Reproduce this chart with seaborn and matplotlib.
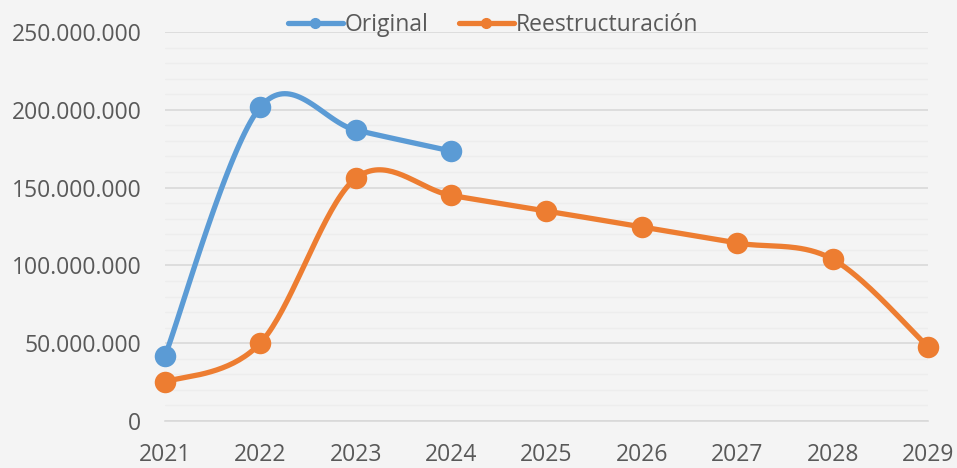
import matplotlib
matplotlib.use("Agg")
import matplotlib.pyplot as plt
import numpy as np
import pandas as pd
import seaborn as sns
from matplotlib.lines import Line2D
from matplotlib.ticker import FuncFormatter, MultipleLocator

# Values
years_original = [2021, 2022, 2023, 2024]
original = [41_800_000, 201_800_000, 187_000_000, 173_500_000]

years_restructure = [2021, 2022, 2023, 2024, 2025, 2026, 2027, 2028, 2029]
restructure = [25_000_000, 50_100_000, 156_000_000, 145_000_000, 135_000_000,
               124_700_000, 114_400_000, 104_000_000, 47_600_000]

series_names = ["Original", "Reestructuración"]
colors = ["#5B9BD5", "#ED7D31"]
bg = "#F4F4F4"


def excel_smooth(x, y, steps=40):
    # Excel-style smoothed line: cubic Bezier with control points (P2 - P0) / 6
    pts = np.column_stack([x, y]).astype(float)
    n = len(pts)
    out = [pts[0]]
    for i in range(n - 1):
        p0 = pts[i - 1] if i > 0 else pts[i]
        p1 = pts[i]
        p2 = pts[i + 1]
        p3 = pts[i + 2] if i + 2 < n else pts[i + 1]
        c1 = p1 + (p2 - p0) / 6
        c2 = p2 - (p3 - p1) / 6
        t = np.linspace(0, 1, steps)[1:, None]
        seg = ((1 - t) ** 3) * p1 + 3 * ((1 - t) ** 2) * t * c1 + 3 * (1 - t) * t ** 2 * c2 + t ** 3 * p2
        out.extend(seg)
    out = np.array(out)
    return pd.DataFrame({"x": out[:, 0], "y": out[:, 1]})


sns.set_theme(style="white")
plt.rcParams["font.family"] = ["Open Sans", "DejaVu Sans"]

fig = plt.figure(figsize=(9.57, 4.68), dpi=100, facecolor=bg)
ax = fig.add_axes([0.1724, 0.1004, 0.7973, 0.8312], facecolor=bg)

for (xs, ys), c in zip([(years_original, original), (years_restructure, restructure)], colors):
    curve = excel_smooth(xs, ys)
    sns.lineplot(data=curve, x="x", y="y", sort=False, color=c, linewidth=3.8,
                 ax=ax, clip_on=False, zorder=3, solid_capstyle="round")
    sns.scatterplot(x=xs, y=ys, color=c, s=240, linewidth=0, ax=ax,
                    clip_on=False, zorder=4)

ax.set_xlim(2021, 2029)
ax.set_ylim(0, 250_000_000)
ax.set_xticks(years_restructure)
ax.yaxis.set_major_locator(MultipleLocator(50_000_000))
ax.yaxis.set_minor_locator(MultipleLocator(10_000_000))
ax.yaxis.set_major_formatter(FuncFormatter(lambda v, p: f"{int(v):,}".replace(",", ".")))

ax.grid(axis="y", which="major", color="#D9D9D9", linewidth=1.2, zorder=0)
ax.grid(axis="y", which="minor", color="#EDEDED", linewidth=1.0, zorder=0)
ax.set_axisbelow(True)

for side in ["left", "right", "top"]:
    ax.spines[side].set_visible(False)
ax.spines["bottom"].set_color("#D9D9D9")
ax.spines["bottom"].set_linewidth(1.2)

ax.tick_params(axis="both", which="both", length=0, labelsize=16.5, colors="#595959")
ax.tick_params(axis="x", pad=16)
ax.tick_params(axis="y", pad=17)
ax.set_xlabel("")
ax.set_ylabel("")

handles = [Line2D([0], [0], color=c, linewidth=3.8, marker="o", markersize=7,
                  solid_capstyle="round") for c in colors]
leg = ax.legend(handles, series_names, loc="center", bbox_to_anchor=(0.43, 1.018),
                ncol=2, frameon=False, fontsize=16.5, handlelength=2.4,
                handletextpad=0.1, columnspacing=1.3, borderaxespad=0)
for t in leg.get_texts():
    t.set_color("#595959")

fig.savefig("out.png", dpi=100, facecolor=bg)
